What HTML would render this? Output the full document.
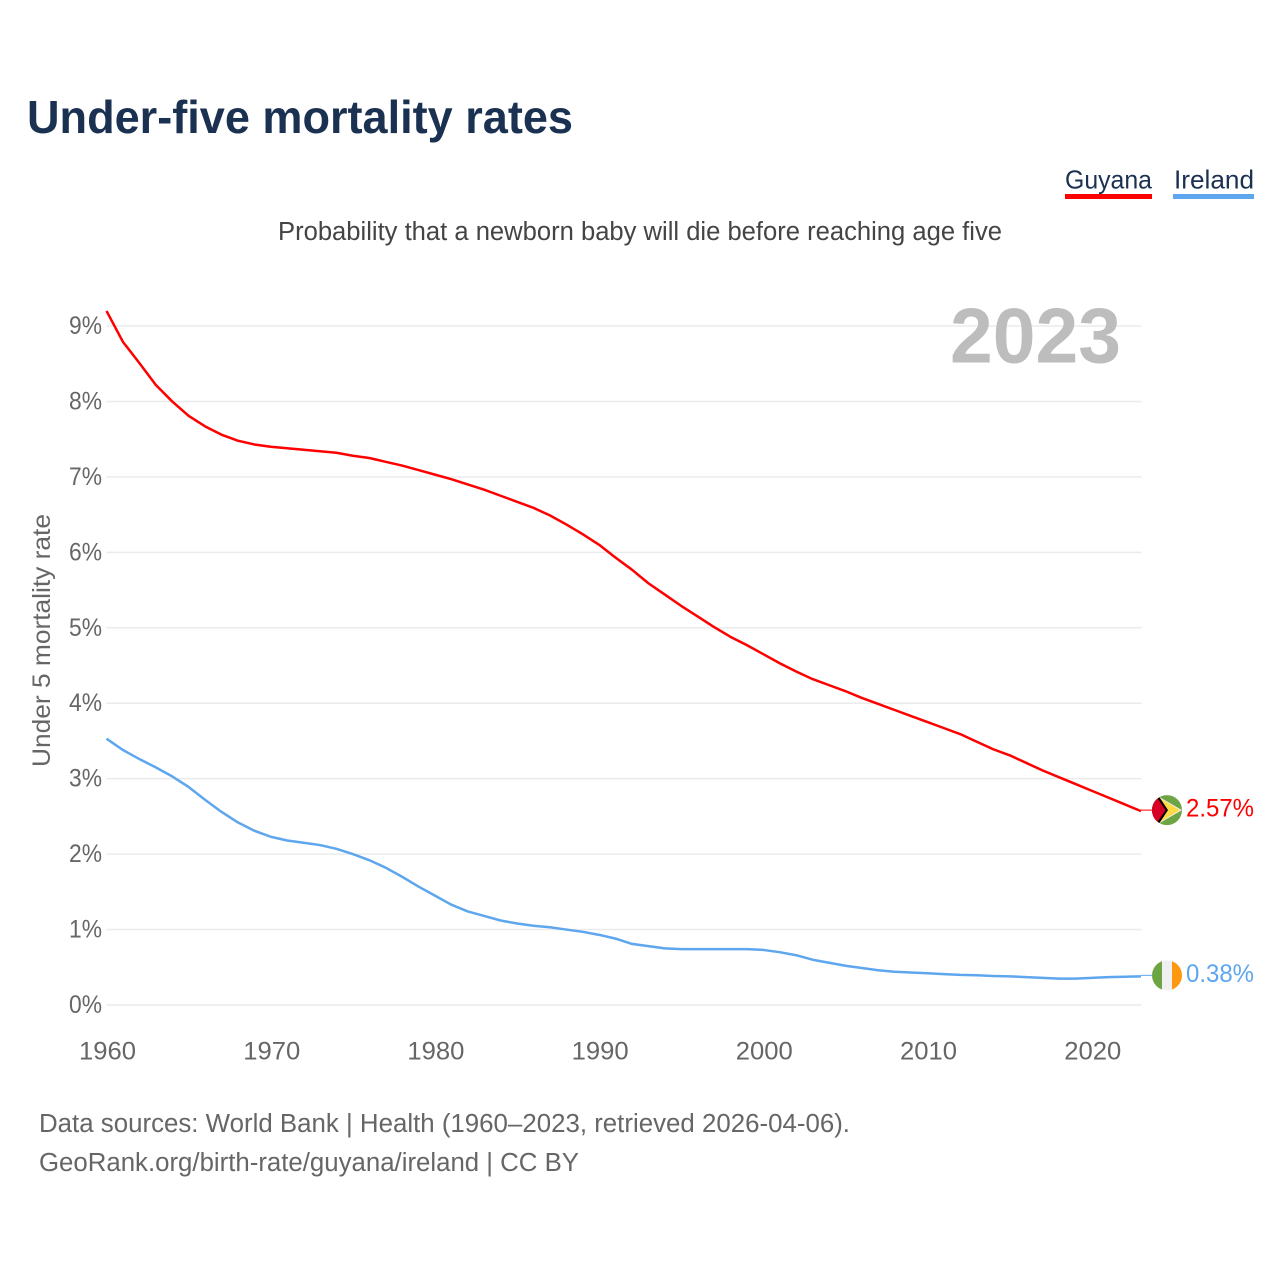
<!DOCTYPE html>
<html lang="en">
<head>
<meta charset="utf-8">
<title>Under-five mortality rates</title>
<style>
html,body{margin:0;padding:0;background:#fff;}
svg{display:block;font-family:"Liberation Sans",sans-serif;}
</style>
</head>
<body>
<svg id="chart" xmlns="http://www.w3.org/2000/svg" width="1280" height="1280" viewBox="0 0 1280 1280">
<rect width="1280" height="1280" fill="#fff"/>
<text x="27" y="133" font-size="46" font-weight="700" fill="#1b3151" textLength="546" lengthAdjust="spacingAndGlyphs">Under-five mortality rates</text>
<g>
<text x="1065" y="188.5" font-size="26" fill="#1b3151" textLength="87" lengthAdjust="spacingAndGlyphs">Guyana</text>
<rect x="1065" y="194" width="87" height="5" fill="#ff0000"/>
</g>
<g>
<text x="1174" y="188.5" font-size="26" fill="#1b3151" textLength="80" lengthAdjust="spacingAndGlyphs">Ireland</text>
<rect x="1173" y="194" width="81" height="5" fill="#5ea6ee"/>
</g>
<text x="278" y="240" font-size="25.5" fill="#444" textLength="724" lengthAdjust="spacingAndGlyphs">Probability that a newborn baby will die before reaching age five</text>
<text transform="translate(50,767) rotate(-90)" font-size="25" fill="#666" textLength="253" lengthAdjust="spacingAndGlyphs">Under 5 mortality rate</text>
<g id="grid"></g>
<g id="yticks"></g>
<g id="xticks"></g>
<text x="950" y="362.5" font-size="78" font-weight="700" fill="#bdbdbd" textLength="171" lengthAdjust="spacingAndGlyphs">2023</text>
<path id="line-guyana" fill="none" stroke="#ff0000" stroke-width="2.5" stroke-linejoin="round"/>
<path id="line-ireland" fill="none" stroke="#5ea6ee" stroke-width="2.5" stroke-linejoin="round"/>
<line id="lead-guyana" x1="1141" x2="1153" stroke="#ff0000" stroke-width="1"/>
<line id="lead-ireland" x1="1141" x2="1153" stroke="#5ea6ee" stroke-width="1"/>
<defs>
<clipPath id="flag-clip"><circle cx="0" cy="0" r="15"/></clipPath>
</defs>
<g id="flag-guyana" clip-path="url(#flag-clip)">
<rect x="-15" y="-15" width="30" height="30" fill="#6da544"/>
<polygon points="-15,-15 -11,-15 15,0 -11,15 -15,15" fill="#f0f0f0"/>
<polygon points="-15,-13 -9,-13 13,0 -9,13 -15,13" fill="#ffda44"/>
<polygon points="-15,-15 -9,-15 1,0 -9,15 -15,15" fill="#000"/>
<polygon points="-15,-15 -11.5,-15 -1.5,0 -11.5,15 -15,15" fill="#d80027"/>
</g>
<g id="flag-ireland" clip-path="url(#flag-clip)">
<rect x="-15" y="-15" width="10" height="30" fill="#6da544"/>
<rect x="-5" y="-15" width="10" height="30" fill="#f0f0f0"/>
<rect x="5" y="-15" width="10" height="30" fill="#ff9811"/>
</g>
<text id="value-guyana" x="1186" font-size="25" fill="#ff0000" textLength="68" lengthAdjust="spacingAndGlyphs"></text>
<text id="value-ireland" x="1186" font-size="25" fill="#5ea6ee" textLength="68" lengthAdjust="spacingAndGlyphs"></text>
<text x="39" y="1132" font-size="25.5" fill="#666" textLength="811" lengthAdjust="spacingAndGlyphs">Data sources: World Bank | Health (1960–2023, retrieved 2026-04-06).</text>
<text x="39" y="1171" font-size="25.5" fill="#666" textLength="540" lengthAdjust="spacingAndGlyphs">GeoRank.org/birth-rate/guyana/ireland | CC BY</text>
</svg>
<script>
const startYear = 1960;
const endYear = 2023;
const yTickValues = [0,1,2,3,4,5,6,7,8,9];
const xTickValues = [1960,1970,1980,1990,2000,2010,2020];
const guyanaValues = [9.20,8.79,8.51,8.22,8.00,7.81,7.67,7.56,7.48,7.43,7.40,7.38,7.36,7.34,7.32,7.28,7.25,7.20,7.15,7.09,7.03,6.97,6.90,6.83,6.75,6.67,6.59,6.49,6.37,6.24,6.10,5.93,5.77,5.59,5.44,5.29,5.15,5.01,4.88,4.77,4.65,4.53,4.42,4.32,4.24,4.16,4.07,3.99,3.91,3.83,3.75,3.67,3.59,3.49,3.39,3.31,3.21,3.11,3.02,2.93,2.84,2.75,2.66,2.57];
const irelandValues = [3.53,3.38,3.26,3.15,3.03,2.89,2.72,2.56,2.42,2.31,2.23,2.18,2.15,2.12,2.07,2.00,1.92,1.82,1.70,1.57,1.45,1.33,1.24,1.18,1.12,1.08,1.05,1.03,1.00,0.97,0.93,0.88,0.81,0.78,0.75,0.74,0.74,0.74,0.74,0.74,0.73,0.70,0.66,0.60,0.56,0.52,0.49,0.46,0.44,0.43,0.42,0.41,0.40,0.395,0.385,0.38,0.37,0.36,0.35,0.35,0.36,0.37,0.375,0.38];

const NS = 'http://www.w3.org/2000/svg';
const x = yr => 106.5 + (yr - startYear) * (1141 - 106.5) / (endYear - startYear);
const y = v => 1005 - v * (1005 - 326) / 9;

const gridG = document.getElementById('grid');
const yG = document.getElementById('yticks');
const xG = document.getElementById('xticks');

yTickValues.forEach(function (v) {
  const ln = document.createElementNS(NS, 'line');
  
  
  ln.setAttribute('x1', 106.5);
  ln.setAttribute('x2', 1141.5);
  ln.setAttribute('y1', y(v));
  ln.setAttribute('y2', y(v));
  ln.setAttribute('stroke', '#ebebeb');
  ln.setAttribute('stroke-width', '1.5');
  gridG.appendChild(ln);

  const t = document.createElementNS(NS, 'text');
  
  
  t.setAttribute('x', 69);
  t.setAttribute('y', y(v) + 8);
  t.setAttribute('font-size', '25');
  t.setAttribute('fill', '#666');
  t.setAttribute('textLength', '33');
  t.setAttribute('lengthAdjust', 'spacingAndGlyphs');
  t.textContent = v + '%';
  yG.appendChild(t);
});

xTickValues.forEach(function (yr) {
  const t = document.createElementNS(NS, 'text');
  
  
  t.setAttribute('x', x(yr) - 27.5);
  t.setAttribute('y', 1059.5);
  t.setAttribute('font-size', '25');
  t.setAttribute('fill', '#666');
  t.setAttribute('textLength', '57');
  t.setAttribute('lengthAdjust', 'spacingAndGlyphs');
  t.textContent = yr;
  xG.appendChild(t);
});

function linePath(values) {
  return values.map(function (v, i) {
    return (i ? 'L' : 'M') + x(startYear + i).toFixed(2) + ' ' + y(v).toFixed(2);
  }).join(' ');
}
document.getElementById('line-guyana').setAttribute('d', linePath(guyanaValues));
document.getElementById('line-ireland').setAttribute('d', linePath(irelandValues));

function placeEnd(name, values) {
  const last = values[values.length - 1];
  const ey = y(last);
  const lead = document.getElementById('lead-' + name);
  lead.setAttribute('y1', ey - 1);
  lead.setAttribute('y2', ey - 1);
  document.getElementById('flag-' + name).setAttribute('transform', 'translate(1167,' + (ey - 1) + ')');
  const lab = document.getElementById('value-' + name);
  lab.setAttribute('y', ey + 5.5);
  lab.textContent = last.toFixed(2) + '%';
}
placeEnd('guyana', guyanaValues);
placeEnd('ireland', irelandValues);
</script>
</body>
</html>
